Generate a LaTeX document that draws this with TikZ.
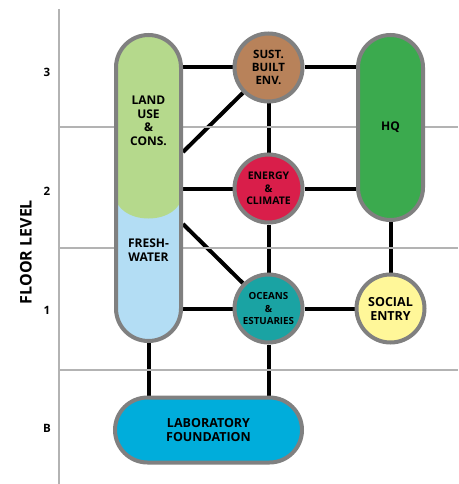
\documentclass[tikz,border=0pt]{standalone}
\usepackage{fontspec}
\setmainfont{Open Sans}
\usetikzlibrary{backgrounds}

\definecolor{ringgray}{HTML}{808080}
\definecolor{gridgray}{HTML}{B3B3B3}
\definecolor{landgreen}{HTML}{B5D98C}
\definecolor{freshblue}{HTML}{B3DDF4}
\definecolor{builtbrown}{HTML}{B8825A}
\definecolor{energyred}{HTML}{D91E4A}
\definecolor{oceanteal}{HTML}{1AA3A3}
\definecolor{socialyellow}{HTML}{FFF799}
\definecolor{hqgreen}{HTML}{3BAA4E}
\definecolor{labblue}{HTML}{00ADDB}

\newcommand{\fs}[2]{\bfseries\fontsize{#1}{#2}\selectfont}

\begin{document}
\begin{tikzpicture}[
      x=1pt, y=-1pt,
      unit/.style={draw=ringgray, line width=4pt, align=center, inner sep=0pt},
      pill/.style={unit, rectangle, rounded corners=32.5pt},
      room/.style={unit, circle, minimum size=68pt},
      link/.style={line width=4pt},
      grid/.style={draw=gridgray, line width=1.1pt},
      floor/.style={font=\fs{11.5}{14}}
    ]
    \useasboundingbox (0,0) rectangle (458,484);

    % floor grid
    \draw[grid] (59,9) -- (59,484);
    \foreach \y in {127,248,370}
      \draw[grid] (59,\y) -- (458,\y);
    \node (f3) [floor] at (47,72.5) {3};
    \node (f2) [floor] at (47,191.5) {2};
    \node (f1) [floor] at (47,310) {1};
    \node (fb) [floor] at (47,428.5) {B};
    \node (axis) [rotate=90, font=\fs{16}{20}] at (26,252) {FLOOR LEVEL};

    % units
    \node (land) [pill, fill=freshblue, minimum width=65pt, minimum height=306pt,
      path picture={
        \fill[landgreen] (-50,-200) rectangle (50,8);
        \fill[landgreen] (0,8) ellipse [x radius=33pt, y radius=22.5pt];
      }] at (148.5,188) {};
    \node (landtxt) [font=\fs{12}{13.5}, align=center] at (148.5,121) {LAND\\USE\\\&\\CONS.};
    \node (freshtxt) [font=\fs{12}{13.5}, align=center] at (148.5,250) {FRESH-\\WATER};
    \node (hq) [pill, fill=hqgreen, minimum width=65pt, minimum height=185pt,
      font=\fs{12}{13.5}] at (390.5,127.5) {HQ};
    \node (lab) [pill, fill=labblue, minimum width=187pt, minimum height=65pt,
      font=\fs{12.5}{13.5}] at (208.5,430) {LABORATORY\\FOUNDATION};
    \node (sust) [room, fill=builtbrown, font=\fs{11.5}{13.3}] at (268.5,67.5) {SUST.\\BUILT\\ENV.};
    \node (energy) [room, fill=energyred, font=\fs{10.5}{12.7}] at (268.5,188.5) {ENERGY\\\&\\CLIMATE};
    \node (oceans) [room, fill=oceanteal, font=\fs{9.8}{12.5}] at (268.5,308.5) {OCEANS\\\&\\ESTUARIES};
    \node (social) [room, fill=socialyellow, font=\fs{12.5}{14}] at (390.5,308.5) {SOCIAL\\ENTRY};

    % connections
    \begin{scope}[on background layer]
      \draw[link] (land |- sust) -- (sust) -- (sust -| hq);
      \draw[link] (land |- energy) -- (energy) -- (energy -| hq);
      \draw[link] (land |- oceans) -- (oceans) -- (social);
      \draw[link] (land.east |- 0,152) -- (sust);
      \draw[link] (land.east |- 0,224) -- (oceans);
      \draw[link] (sust) -- (energy) -- (oceans);
      \draw[link] (hq) -- (social);
      \draw[link] (land) -- (land |- lab);
      \draw[link] (oceans) -- (oceans |- lab);
    \end{scope}
  \end{tikzpicture}
\end{document}
